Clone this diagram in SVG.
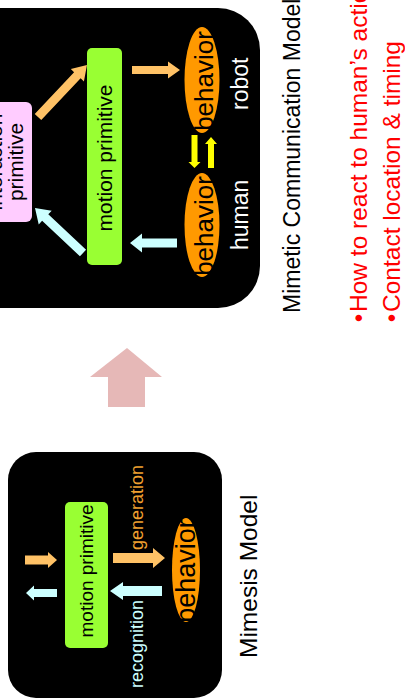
<svg xmlns="http://www.w3.org/2000/svg" width="405" height="699" viewBox="0 0 405 699">
<style>
text{font-family:"Liberation Sans",Arial,sans-serif}
.panel{fill:#000}
.mp{fill:#99FF33}
.beh{fill:#FF9900}
.lbl{fill:#000}
.wht{fill:#fff}
.oa{fill:#FFC266}
.ca{fill:#CCFFFF}
.ya{fill:#FFFF00}
.red{fill:#FF0000}
</style>
<rect width="405" height="699" fill="#fff"/>
<g id="mimetic-panel">
<rect class="panel" x="-60" y="8" width="320" height="300" rx="42"/>
</g>
<g id="interaction-primitive">
<rect x="-20" y="102" width="52" height="120" rx="6" fill="#FFCCFF"/>
<text class="lbl" font-size="21" text-anchor="middle" transform="translate(1.5,162) rotate(-90)">interaction</text>
<text class="lbl" font-size="21" text-anchor="middle" transform="translate(23,162) rotate(-90)">primitive</text>
</g>
<g id="motion-primitive-top">
<rect class="mp" x="87" y="48" width="35" height="217" rx="5"/>
<text class="lbl" font-size="21" text-anchor="middle" transform="translate(112,158) rotate(-90)">motion primitive</text>
</g>
<g id="robot-behavior">
<ellipse class="beh" cx="202" cy="80" rx="17.5" ry="53"/>
<text class="lbl" font-size="26" text-anchor="middle" transform="translate(213,81) rotate(-90)">behavior</text>
</g>
<g id="human-behavior">
<ellipse class="beh" cx="202" cy="225" rx="17.5" ry="52"/>
<text class="lbl" font-size="26" text-anchor="middle" transform="translate(213,226) rotate(-90)">behavior</text>
</g>
<g id="labels-top">
<text class="wht" font-size="23" transform="translate(248,110) rotate(-90)">robot</text>
<text class="wht" font-size="23" transform="translate(248,250) rotate(-90)">human</text>
</g>
<g id="mimesis-panel">
<rect class="panel" x="8" y="452" width="214" height="246" rx="28"/>
</g>
<g id="motion-primitive-bottom">
<rect class="mp" x="65" y="502" width="43" height="146" rx="5"/>
<text class="lbl" font-size="19" text-anchor="middle" transform="translate(93,571) rotate(-90)">motion primitive</text>
</g>
<g id="behavior-bottom">
<ellipse class="beh" cx="186" cy="570" rx="14" ry="52"/>
<text class="lbl" font-size="27" text-anchor="middle" transform="translate(195,571) rotate(-90)">behavior</text>
</g>
<g id="connectors">
<polygon class="oa" points="132,66 168,66 168,61.5 180,70 168,78.5 168,74 132,74"/>
<polygon class="ca" points="177,238.5 142,238.5 142,233.5 130,243 142,252.5 142,247.5 177,247.5"/>
<polygon class="ya" points="191.5,135 197.5,135 197.5,162 200.5,162 194.5,168 188.5,162 191.5,162"/>
<polygon class="ya" points="208,168 214,168 214,144 217,144 211,137 205,144 208,144"/>
<polygon class="oa" transform="translate(38,117) rotate(-46.7)" points="0,-4.5 57.4,-4.5 57.4,-9 71.4,0 57.4,9 57.4,4.5 0,4.5"/>
<polygon class="ca" transform="translate(83,253) rotate(-136.85)" points="0,-4.5 51.8,-4.5 51.8,-9.5 65.8,0 51.8,9.5 51.8,4.5 0,4.5"/>
<polygon class="oa" points="25,555.5 48,555.5 48,552 57,560 48,568 48,564.5 25,564.5"/>
<polygon class="ca" points="57,589 34,589 34,585.5 26,593 34,600.5 34,597 57,597"/>
<polygon class="oa" points="113,553 153,553 153,548 165,558 153,568 153,563 113,563"/>
<polygon class="ca" points="162,586 123,586 123,582 110,591 123,600 123,596 162,596"/>
<polygon fill="#E6B8B7" points="108,407 108,377 90,377 127,348 162,377 145,377 145,407"/>
</g>
<g id="arrow-labels">
<text font-size="18" fill="#F0A030" transform="translate(143,550) rotate(-90)">generation</text>
<text font-size="18" fill="#CCFFFF" transform="translate(143,688) rotate(-90)">recognition</text>
</g>
<g id="captions">
<text font-size="23" fill="#000" transform="translate(300,313) rotate(-90)">Mimetic Communication Model</text>
<text font-size="24.5" fill="#000" transform="translate(257,658) rotate(-90)">Mimesis Model</text>
<text class="red" font-size="24.5" text-anchor="middle" transform="translate(367,318) rotate(-90)">•</text>
<text class="red" font-size="24.5" transform="translate(367,312) rotate(-90)">How to react to human’s actions</text>
<text class="red" font-size="24.5" text-anchor="middle" transform="translate(400,318) rotate(-90)">•</text>
<text class="red" font-size="24.5" transform="translate(400,312) rotate(-90)">Contact location &amp; timing</text>
</g>
</svg>
